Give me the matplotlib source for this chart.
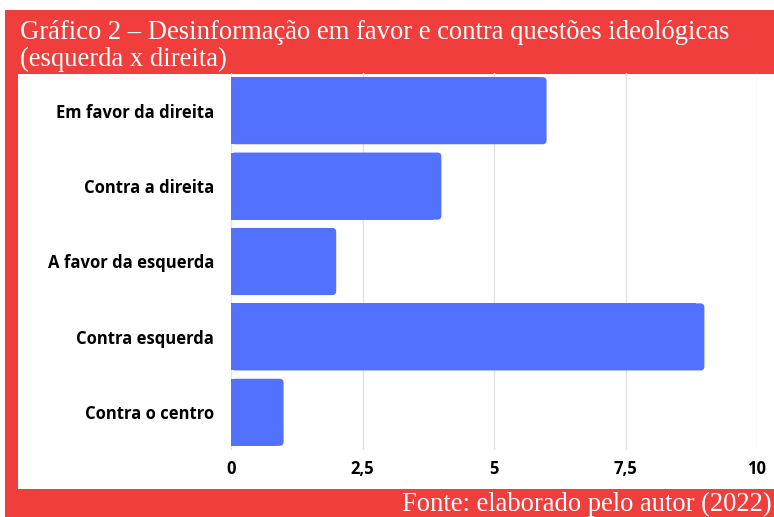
import matplotlib.pyplot as plt
from matplotlib.patches import Rectangle, FancyBboxPatch

categories = ["Em favor da direita", "Contra a direita", "A favor da esquerda",
              "Contra esquerda", "Contra o centro"]
values = [6, 4, 2, 9, 1]
x_ticks = [0, 2.5, 5, 7.5, 10]
x_tick_labels = ["0", "2,5", "5", "7,5", "10"]

title_line1 = "Gráfico 2 – Desinformação em favor e contra questões ideológicas"
title_line2 = "(esquerda x direita)"
source_text = "Fonte: elaborado pelo autor (2022)"

RED = "#ef3e3c"
BAR = "#5271ff"
W, H = 774, 517


def px(x, y):
    # pixel from top-left -> figure fraction
    return x / W, 1 - y / H


fig = plt.figure(figsize=(W / 100, H / 100), dpi=100)
fig.patch.set_facecolor("white")

# red frame and white inner panel
fig.patches.append(Rectangle(px(5, 517), (W - 5) / W, (517 - 10) / H,
                             transform=fig.transFigure, facecolor=RED,
                             edgecolor="none", zorder=-2))
fig.patches.append(Rectangle(px(18, 489), (W - 18) / W, (489 - 74) / H,
                             transform=fig.transFigure, facecolor="white",
                             edgecolor="none", zorder=-1))

fig.text(*px(20, 39), title_line1, color="white", fontsize=19.2,
         family="Liberation Serif", va="baseline", ha="left")
fig.text(*px(20, 66), title_line2, color="white", fontsize=19.2,
         family="Liberation Serif", va="baseline", ha="left")
fig.text(*px(772, 511), source_text, color="white", fontsize=19.2,
         family="Liberation Serif", va="baseline", ha="right")

left, top = px(231, 73)
right, bottom = px(757, 450)
ax = fig.add_axes([left, bottom, right - left, top - bottom])
ax.set_zorder(2)
ax.set_facecolor("none")

ax.set_xlim(0, 10)
ax.set_ylim(len(categories) - 0.5, -0.5)

bar_h = 0.89
# x units per px vs y units per px, for round corners
x_per_px = 10 / (757 - 231)
y_per_px = len(categories) / (450 - 73)
r = 4 * x_per_px
for i, v in enumerate(values):
    ax.add_patch(Rectangle((0, i - bar_h / 2), v - 2 * r, bar_h,
                           facecolor=BAR, edgecolor="none", zorder=2))
    ax.add_patch(FancyBboxPatch((0, i - bar_h / 2), v, bar_h,
                                boxstyle=f"round,pad=0,rounding_size={r}",
                                mutation_aspect=y_per_px / x_per_px,
                                facecolor=BAR, edgecolor="none", zorder=2))

ax.set_xticks(x_ticks)
ax.set_xticklabels(x_tick_labels)
ax.set_yticks(range(len(categories)))
ax.set_yticklabels(categories)
for lab in ax.get_xticklabels() + ax.get_yticklabels():
    lab.set_fontfamily("Open Sans")
    lab.set_fontweight("bold")
    lab.set_fontsize(12)
    lab.set_color("black")

ax.tick_params(axis="both", length=0)
ax.tick_params(axis="y", pad=12)
ax.tick_params(axis="x", pad=7)
ax.grid(axis="x", color="#e2e2e2", linewidth=1)
ax.set_axisbelow(True)
for s in ax.spines.values():
    s.set_visible(False)

fig.savefig("out.png", dpi=100)
